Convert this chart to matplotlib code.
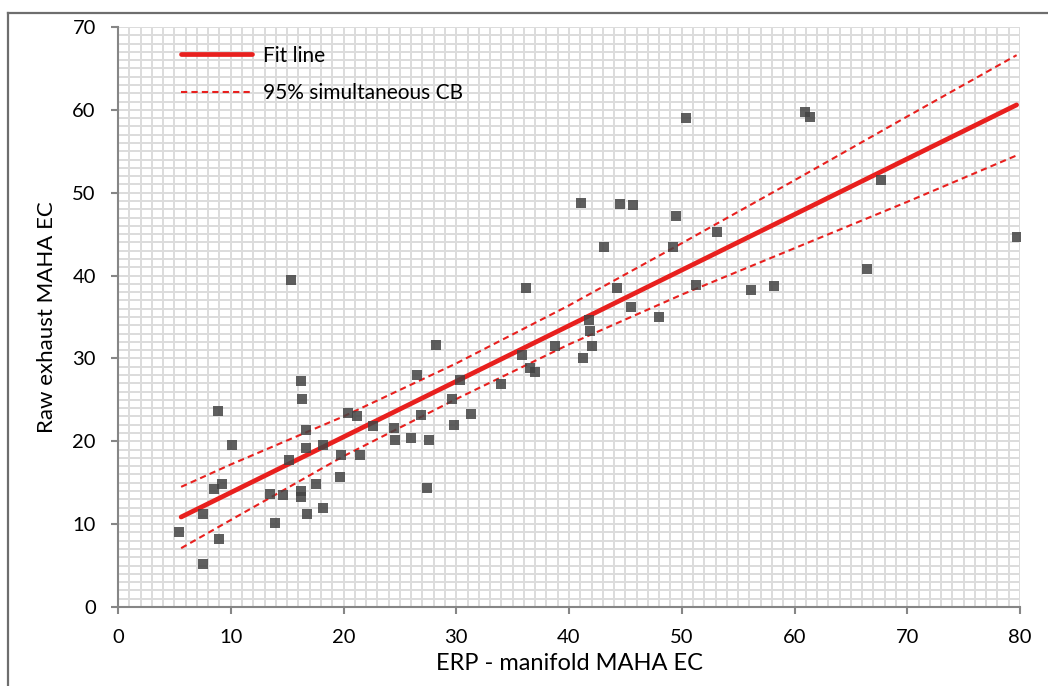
import matplotlib
matplotlib.use("Agg")
from matplotlib import pyplot as plt
from matplotlib.lines import Line2D
from matplotlib.ticker import MultipleLocator
import numpy as np

# scatter points
erp_x = [5.45, 7.5, 7.5, 9.0, 8.5, 9.2, 8.9, 10.1, 13.5, 13.9, 14.6, 15.3, 15.2,
         16.2, 16.3, 16.7, 16.7, 16.2, 16.2, 16.8, 17.6, 18.2, 18.2, 19.8, 19.7,
         20.4, 21.2, 21.5, 22.6, 24.5, 24.6, 26.0, 26.9, 26.5, 27.6, 27.4, 28.2,
         29.6, 29.8, 30.3, 31.3, 34.0, 35.8, 36.2, 36.5, 37.0, 38.8, 41.2, 41.8,
         41.9, 42.0, 44.3, 45.5, 48.0, 41.1, 43.1, 44.5, 45.7, 49.5, 49.2, 53.1,
         50.4, 60.9, 61.4, 51.3, 56.1, 58.2, 66.4, 67.7, 79.7]
raw_y = [9.0, 11.2, 5.2, 8.2, 14.2, 14.8, 23.7, 19.6, 13.6, 10.1, 13.5, 39.5, 17.8,
         27.3, 25.1, 21.4, 19.2, 14.0, 13.3, 11.2, 14.8, 12.0, 19.6, 18.4, 15.7,
         23.4, 23.0, 18.4, 21.8, 21.6, 20.1, 20.4, 23.2, 28.0, 20.1, 14.4, 31.6,
         25.1, 22.0, 27.4, 23.3, 26.9, 30.4, 38.5, 28.9, 28.4, 31.5, 30.1, 34.6,
         33.3, 31.5, 38.5, 36.2, 35.0, 48.7, 43.4, 48.6, 48.5, 47.2, 43.5, 45.3,
         59.0, 59.7, 59.1, 38.9, 38.2, 38.7, 40.8, 51.5, 44.6]

# fit line end points
fit_x = [5.6, 79.7]
fit_y = [10.86, 60.6]

# confidence band samples
cb_x = [5.6, 10, 20, 30, 40, 50, 60, 70, 79.7]
cb_upper = [14.5, 17.2, 23.0, 29.4, 36.4, 43.9, 51.5, 59.2, 66.6]
cb_lower = [7.1, 10.5, 18.2, 25.1, 31.7, 37.7, 43.3, 48.9, 54.5]

plt.rcParams['font.family'] = ['Lato', 'DejaVu Sans']

W, H = 1048, 686
fig = plt.figure(figsize=(W / 100, H / 100), dpi=100)
ax = fig.add_axes([118 / W, 1 - 607 / H, 902 / W, 580 / H])

red = '#e8201e'
ax.plot(fit_x, fit_y, color=red, lw=3.4, solid_capstyle='round', label='Fit line', zorder=3)
ax.plot(cb_x, cb_upper, color=red, lw=1.5, dashes=(3, 2), label='95% simultaneous CB', zorder=3)
ax.plot(cb_x, cb_lower, color=red, lw=1.5, dashes=(3, 2), zorder=3)
ax.plot(erp_x, raw_y, 's', color='#434343', alpha=0.85, ms=7.7, mew=0, zorder=4)

ax.set_xlim(0, 80)
ax.set_ylim(0, 70)
ax.xaxis.set_major_locator(MultipleLocator(10))
ax.yaxis.set_major_locator(MultipleLocator(10))
ax.xaxis.set_minor_locator(MultipleLocator(1))
ax.yaxis.set_minor_locator(MultipleLocator(1))
ax.grid(True, which='both', color='#dcdcdc', lw=1.4, zorder=0)
ax.set_axisbelow(True)
ax.tick_params(which='minor', length=0)
ax.tick_params(which='major', direction='out', length=5, width=1.5, color='#868686',
               labelsize=14.5, pad=11)

for s in ['top', 'right']:
    ax.spines[s].set_visible(False)
for s in ['left', 'bottom']:
    ax.spines[s].set_color('#868686')
    ax.spines[s].set_linewidth(1.5)

ax.set_xlabel('ERP - manifold MAHA EC', fontsize=17)
ax.set_ylabel('Raw exhaust MAHA EC', fontsize=16)
ax.xaxis.set_label_coords(0.501, -0.08)
ax.yaxis.set_label_coords(-0.068, 0.5)

ax.legend(loc='upper left', bbox_to_anchor=(0.07, 0.968), frameon=False, fontsize=15,
          handlelength=3.4, handletextpad=0.55, labelspacing=0.85, borderpad=0,
          borderaxespad=0)

# chart area border (top and left edges visible)
fig.add_artist(Line2D([8 / W, 8 / W], [0, 1 - 13 / H], transform=fig.transFigure,
                      color='#6e6e6e', lw=1.6))
fig.add_artist(Line2D([8 / W, 1], [1 - 13 / H, 1 - 13 / H], transform=fig.transFigure,
                      color='#6e6e6e', lw=1.6))

fig.savefig('out.png', dpi=100)
